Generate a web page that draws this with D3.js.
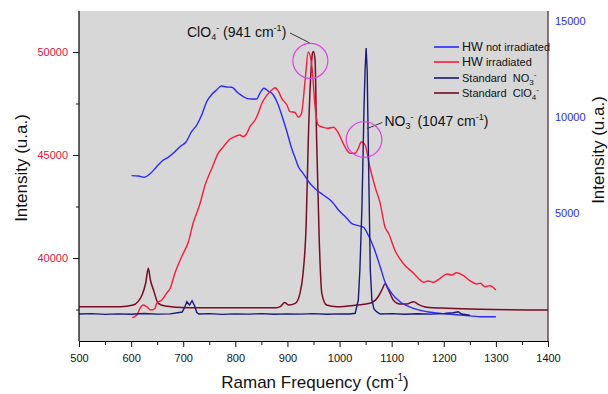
<!DOCTYPE html>
<html><head><meta charset="utf-8">
<script src="https://cdn.jsdelivr.net/npm/d3@7"></script>
<style>
html,body{margin:0;padding:0;background:#fff;}
svg{display:block;font-family:"Liberation Sans",Arial,sans-serif;}
</style></head>
<body>
<svg id="chart" width="608" height="394"></svg>
<script>
// ---------- DATA ----------
const xTicks = [500,600,700,800,900,1000,1100,1200,1300,1400];
const leftTicks = [40000,45000,50000];
const rightTicks = [5000,10000,15000];

const hwNotIrrFreq = [601,614,625,636,649,662,671,684,696,705,716,726,736,745,755,764,773,783,793,806,822,831,841,847,855,863,873,881,889,899,908,915,921,930,943,956,969,982,988,998,1014,1023,1036,1046,1055,1065,1078,1087,1100,1116,1142,1174,1206,1238,1270,1300];
const hwNotIrrInt  = [44000,43980,43917,44078,44432,44757,44888,45160,45451,45616,46131,46456,46976,47587,47947,48155,48350,48301,48286,47995,47752,47718,47718,47995,48238,48107,47913,47510,46942,46131,45325,44840,44432,44112,43626,43301,43058,42815,42655,42330,41927,41684,41568,41490,41116,40549,39578,38850,38286,37879,37558,37364,37281,37218,37150,37150];

const hwIrrFreq = [602,611,617,623,630,638,646,649,659,668,675,684,697,710,719,732,742,755,767,777,790,799,809,815,822,828,838,844,851,860,870,876,883,889,899,905,914,921,927,934,940,947,953,959,969,978,988,998,1007,1020,1030,1036,1042,1049,1058,1068,1078,1087,1094,1106,1122,1142,1151,1161,1170,1180,1193,1206,1215,1225,1238,1250,1263,1270,1279,1289,1300];
const hwIrrInt  = [37102,37233,37558,37718,37636,37476,37558,37801,37961,38286,38529,39257,40063,40791,41684,42621,43544,44354,45083,45403,45777,45888,45971,45888,46053,46374,46699,47024,47510,47879,48155,48267,48073,47752,47427,47102,47073,46830,47024,48641,50000,49286,47345,46456,46345,46296,46345,46053,45568,45083,45083,45325,45646,45485,44432,43461,42655,41519,41199,40388,39743,39257,39015,38820,38884,38820,39015,39223,39175,39286,39141,38898,38738,38771,38607,38656,38447];

const stdNO3Freq = [500,525,550,575,600,625,650,675,698,703,707,712,717,722,726,730,750,775,800,825,850,875,900,925,950,975,1000,1020,1030,1036,1039,1043,1047,1049,1051,1053,1054,1057,1059,1062,1066,1071,1078,1100,1125,1150,1175,1200,1206,1218,1228,1234,1250];
const stdNO3Int  = [37281,37300,37262,37290,37270,37305,37275,37290,37378,37621,37879,37718,37927,37670,37354,37281,37300,37265,37290,37275,37300,37268,37290,37275,37300,37270,37290,37281,37315,37961,39417,42490,47345,49126,50194,49126,47345,42490,39417,37961,37524,37393,37281,37300,37270,37295,37275,37300,37315,37345,37393,37281,37218];

const stdClO4Freq = [500,579,604,621,628,633,637,643,652,665,707,879,886,895,902,915,924,930,936,940,945,948,950,953,956,961,966,975,995,1033,1058,1074,1082,1087,1094,1103,1116,1129,1142,1151,1167,1206,1270,1400];
const stdClO4Int  = [37636,37636,37718,38204,38786,39500,38932,38447,37801,37670,37587,37587,37636,37840,37718,37801,38286,39257,41699,45728,48981,49937,50024,49612,45728,40874,38286,37718,37636,37718,37801,38121,38495,38738,38447,37961,37767,37767,37879,37752,37607,37558,37510,37476];

const seriesNames = ["HW not irradiated","HW irradiated","Standard\u00a0\u00a0NO3-","Standard\u00a0\u00a0ClO4-"];

// ---------- LAYOUT ----------
const svg = d3.select("#chart");
const L = 79, R = 548, T = 11, B = 341;

const x = d3.scaleLinear().domain([500,1400]).range([L,R]);
const yL = d3.scaleLinear().domain([35971,51990]).range([B,T]);
const yR = d3.scaleLinear().domain([-1667,15521]).range([B,T]);

svg.append("rect").attr("x",L).attr("y",T).attr("width",R-L).attr("height",B-T).attr("fill","#d7d7d7");

const defs = svg.append("defs");
defs.append("clipPath").attr("id","clip").append("rect").attr("x",L).attr("y",T).attr("width",R-L).attr("height",B-T);

const line = d3.line().x(d=>x(d[0])).y(d=>yL(d[1])).curve(d3.curveMonotoneX);
const zip = (a,b)=>a.map((v,i)=>[v,b[i]]);

const g = svg.append("g").attr("clip-path","url(#clip)");
g.append("path").datum(zip(stdClO4Freq,stdClO4Int)).attr("d",line).attr("fill","none").attr("stroke","#7a0a25").attr("stroke-width",1.5);
g.append("path").datum(zip(hwNotIrrFreq,hwNotIrrInt)).attr("d",line).attr("fill","none").attr("stroke","#2a2aff").attr("stroke-width",1.4);
g.append("path").datum(zip(hwIrrFreq,hwIrrInt)).attr("d",line).attr("fill","none").attr("stroke","#ff1838").attr("stroke-width",1.4);
g.append("path").datum(zip(stdNO3Freq,stdNO3Int)).attr("d",d3.line().x(d=>x(d[0])).y(d=>yL(d[1]))).attr("fill","none").attr("stroke","#1a1a7a").attr("stroke-width",1.4);

// ---------- AXES ----------
const xAxis = d3.axisBottom(x).tickValues(xTicks).tickSize(6).tickSizeOuter(0).tickFormat(d3.format("d"));
const xMinor = d3.axisBottom(x).tickValues(d3.range(550,1400,100)).tickSize(4).tickFormat("");
const gx = svg.append("g").attr("transform",`translate(0,${B})`).call(xAxis);
svg.append("g").attr("transform",`translate(0,${B})`).call(xMinor).select(".domain").remove();
gx.selectAll("text").attr("font-size",11).attr("fill","#111").attr("dy","1.05em").attr("font-family","Liberation Sans, Arial, sans-serif");

const yAxis = d3.axisLeft(yL).tickValues(leftTicks).tickSize(6).tickSizeOuter(0).tickFormat(d3.format("d"));
const yMinor = d3.axisLeft(yL).tickValues([37500,42500,47500]).tickSize(3).tickFormat("");
const gy = svg.append("g").attr("transform",`translate(${L},0)`).call(yAxis);
gy.select(".domain").attr("d",`M0,${T}V${B}`);
svg.append("g").attr("transform",`translate(${L},0)`).call(yMinor).select(".domain").remove();
gy.selectAll("text").attr("font-size",11).attr("fill","#e8103c").attr("x",-11).attr("font-family","Liberation Sans, Arial, sans-serif");

const yAxisR = d3.axisRight(yR).tickValues(rightTicks).tickSize(0).tickSizeOuter(0).tickFormat(d3.format("d"));
const gr = svg.append("g").attr("transform",`translate(${R},0)`).call(yAxisR);
gr.select(".domain").attr("d",`M0,${T}V${B}`).attr("stroke","#4a1f33").attr("stroke-width",1.2);
gr.selectAll("text").attr("font-size",11).attr("fill","#2a2aff").attr("x",7).attr("font-family","Liberation Sans, Arial, sans-serif");

svg.selectAll(".domain").attr("stroke-width",1.2);
svg.selectAll(".tick line").attr("stroke","#111");

// ---------- TITLES ----------
const xt = svg.append("text").attr("x",315).attr("y",388).attr("text-anchor","middle").attr("font-size",17).attr("fill","#111");
xt.append("tspan").text("Raman Frequency (cm");
xt.append("tspan").attr("dy",-7).attr("font-size",10).text("-1");
xt.append("tspan").attr("dy",7).text(")");

svg.append("text").attr("transform","translate(27,168) rotate(-90)").attr("text-anchor","middle").attr("font-size",17).attr("fill","#111").text("Intensity (u.a.)");
svg.append("text").attr("transform","translate(604,150) rotate(-90)").attr("text-anchor","middle").attr("font-size",17).attr("fill","#111").text("Intensity (u.a.)");

// ---------- LEGEND ----------
const legColors = ["#2a2aff","#ff1838","#1a1a7a","#7a0a25"];
const legY = [47,62,78,93];
seriesNames.forEach((name,i)=>{
  svg.append("line").attr("x1",434).attr("x2",459).attr("y1",legY[i]).attr("y2",legY[i]).attr("stroke",legColors[i]).attr("stroke-width",1.6);
  const t = svg.append("text").attr("x",462).attr("y",legY[i]+4).attr("font-size",11).attr("fill","#111");
  if(i<2){
    t.append("tspan").attr("font-size",12.5).text(name.slice(0,2));
    t.append("tspan").text(name.slice(2));
  } else {
    t.append("tspan").text(name.slice(0,-2));
    t.append("tspan").attr("font-size",8).attr("dy",3).text(name.slice(-2,-1));
    t.append("tspan").attr("font-size",8).attr("dy",-8).text(name.slice(-1));
  }
});

// ---------- ANNOTATIONS ----------
const a1 = svg.append("text").attr("x",187).attr("y",36.5).attr("font-size",14).attr("fill","#111");
a1.append("tspan").text("ClO");
a1.append("tspan").attr("font-size",9).attr("dy",3).text("4");
a1.append("tspan").attr("font-size",9).attr("dy",-9).text("-");
a1.append("tspan").attr("dy",6).text(" (941 cm");
a1.append("tspan").attr("font-size",9).attr("dy",-6).text("-1");
a1.append("tspan").attr("dy",6).text(")");
svg.append("line").attr("x1",x(943)).attr("y1",43).attr("x2",x(905)).attr("y2",33).attr("stroke","#333").attr("stroke-width",1);
svg.append("circle").attr("cx",x(944)).attr("cy",yL(49570)).attr("r",17.5).attr("fill","none").attr("stroke","#e040e8").attr("stroke-width",1.2);

const a2 = svg.append("text").attr("x",384.5).attr("y",125.5).attr("font-size",14).attr("fill","#111");
a2.append("tspan").text("NO");
a2.append("tspan").attr("font-size",9).attr("dy",3).text("3");
a2.append("tspan").attr("font-size",9).attr("dy",-9).text("-");
a2.append("tspan").attr("dy",6).text(" (1047 cm");
a2.append("tspan").attr("font-size",9).attr("dy",-6).text("-1");
a2.append("tspan").attr("dy",6).text(")");
svg.append("line").attr("x1",x(1053)).attr("y1",128.5).attr("x2",x(1082)).attr("y2",122.5).attr("stroke","#333").attr("stroke-width",1);
svg.append("circle").attr("cx",x(1047)).attr("cy",yL(45750)).attr("r",17.8).attr("fill","none").attr("stroke","#e040e8").attr("stroke-width",1.2);
</script>
</body></html>
